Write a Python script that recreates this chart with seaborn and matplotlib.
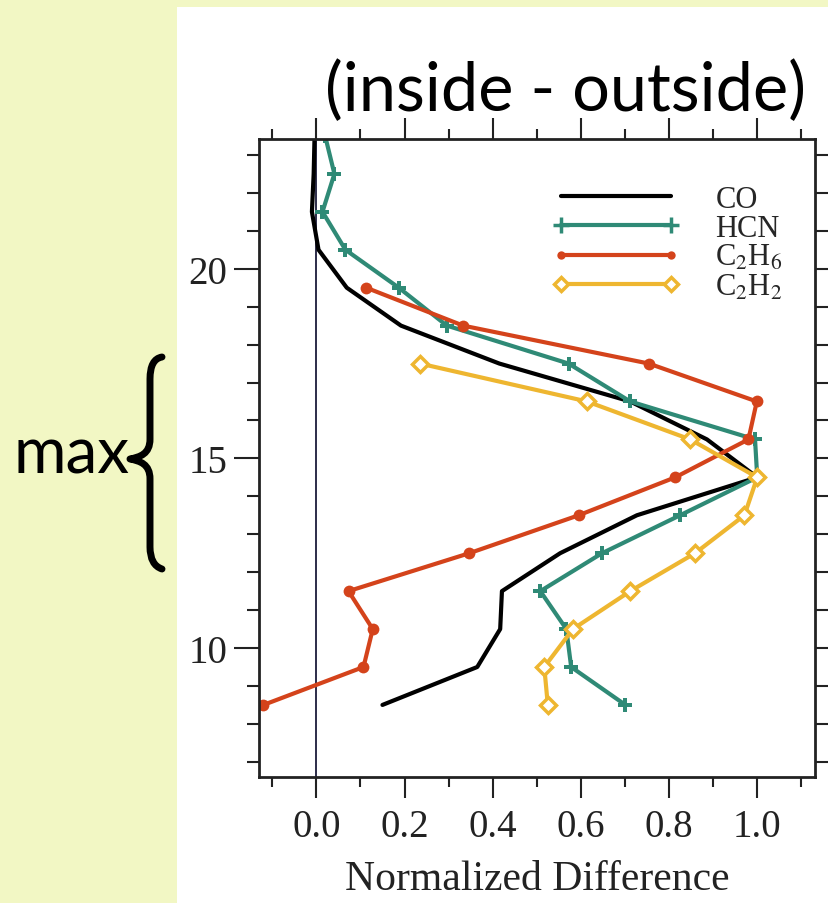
import matplotlib
matplotlib.use("Agg")
import matplotlib.pyplot as plt
import seaborn as sns
import pandas as pd
from matplotlib.path import Path
from matplotlib.patches import PathPatch, Rectangle
from matplotlib.ticker import MultipleLocator

# Altitude levels (km) and normalized inside-minus-outside differences
co_alt = [23.5, 22.5, 21.5, 20.5, 19.5, 18.5, 17.5, 16.5, 15.5, 14.5,
          13.5, 12.5, 11.5, 10.5, 9.5, 8.5]
co_val = [-0.004, -0.006, -0.010, 0.005, 0.069, 0.192, 0.415, 0.712, 0.886, 1.0,
          0.727, 0.553, 0.421, 0.417, 0.365, 0.150]

hcn_alt = [23.5, 22.5, 21.5, 20.5, 19.5, 18.5, 17.5, 16.5, 15.5, 14.5,
           13.5, 12.5, 11.5, 10.5, 9.5, 8.5]
hcn_val = [0.020, 0.041, 0.014, 0.066, 0.187, 0.296, 0.572, 0.712, 0.995, 1.0,
           0.825, 0.648, 0.508, 0.567, 0.578, 0.701]

c2h6_alt = [19.5, 18.5, 17.5, 16.5, 15.5, 14.5, 13.5, 12.5, 11.5, 10.5, 9.5, 8.5]
c2h6_val = [0.113, 0.333, 0.754, 0.999, 0.980, 0.814, 0.595, 0.347, 0.073, 0.128, 0.107, -0.120]

c2h2_alt = [17.5, 16.5, 15.5, 14.5, 13.5, 12.5, 11.5, 10.5, 9.5, 8.5]
c2h2_val = [0.235, 0.614, 0.848, 1.0, 0.971, 0.859, 0.712, 0.582, 0.517, 0.525]

x_ticks = [0.0, 0.2, 0.4, 0.6, 0.8, 1.0]
y_ticks = [10, 15, 20]

sns.set_style("ticks")
plt.rcParams["font.family"] = ["Liberation Serif", "DejaVu Serif"]
plt.rcParams["mathtext.fontset"] = "stix"

W, H = 829, 904
fig = plt.figure(figsize=(W / 100, H / 100), dpi=100)
fig.patch.set_facecolor("#f2f7c4")
fig.add_artist(Rectangle((177 / W, 0), (W - 177) / W, (H - 8) / H,
                         transform=fig.transFigure, facecolor="white",
                         edgecolor="none", zorder=0))

ax = fig.add_axes([259 / W, 1 - 778 / H, (815 - 259) / W, (778 - 140) / H])
ax.set_facecolor("white")

ax.axvline(0, color="#1b1b3a", lw=1.3, zorder=1)

teal, red, gold = "#2f8a76", "#d4431b", "#eeb630"
series = [
    ("CO", co_val, co_alt, dict(color="black", lw=3.0)),
    ("HCN", hcn_val, hcn_alt, dict(color=teal, lw=3.0, marker="P",
                                    markersize=10, markeredgewidth=0)),
    ("C$_2$H$_6$", c2h6_val, c2h6_alt, dict(color=red, lw=3.0, marker="o",
                                           markersize=8.5, markeredgewidth=0)),
    ("C$_2$H$_2$", c2h2_val, c2h2_alt, dict(color=gold, lw=3.0, marker="D",
                                           markersize=8, markerfacecolor="white",
                                           markeredgecolor=gold,
                                           markeredgewidth=2.5)),
]
for name, vals, alts, style in series:
    df = pd.DataFrame({"diff": vals, "alt": alts})
    sns.lineplot(data=df, x="diff", y="alt", sort=False, estimator=None,
                 ax=ax, label=name, **style)

ax.set_xlim(-0.13, 1.131)
ax.set_ylim(6.6, 23.42)
ax.set_xticks(x_ticks)
ax.set_xticklabels([f"{t:.1f}" for t in x_ticks])
ax.set_yticks(y_ticks)
ax.xaxis.set_minor_locator(MultipleLocator(0.1))
ax.yaxis.set_minor_locator(MultipleLocator(1))
ax.tick_params(which="both", direction="out", top=True, right=True,
               width=1.5, color="#222222", labelsize=28, labelcolor="#222222")
ax.tick_params(which="major", length=15, pad=7)
ax.tick_params(which="minor", length=7)
ax.tick_params(axis="y", which="major", length=18, pad=5)
ax.tick_params(axis="y", which="minor", length=9)
for s in ax.spines.values():
    s.set_linewidth(2.0)
    s.set_color("#222222")
ax.set_xlabel("Normalized Difference", fontsize=30, color="#222222", labelpad=11)
ax.set_ylabel("")

leg = ax.legend(loc="upper right", bbox_to_anchor=((783 - 259) / 556, (778 - 186) / 638),
                frameon=False, fontsize=22, handlelength=4.2, handletextpad=1.15,
                labelspacing=0.0, borderpad=0, borderaxespad=0, numpoints=2)
hcn_h, c2h6_h, c2h2_h = leg.legend_handles[1:]
hcn_h.set_marker("+")
hcn_h.set_markersize(12)
hcn_h.set_markeredgewidth(2.5)
hcn_h.set_markeredgecolor(teal)
c2h6_h.set_markersize(6)
c2h2_h.set_markersize(7)

fig.text(566 / W, 1 - 92 / H, "(inside - outside)", family="Lato",
         fontsize=48, ha="center", va="center", color="black")
fig.text(72 / W, 1 - 456 / H, "max", family="Lato", fontsize=46,
         ha="center", va="center", color="black")

# curly brace next to the "max" label, in pixel coordinates
def px(x, y):
    return (x / W, 1 - y / H)

verts = [px(162, 358), px(150, 360), px(150, 380),
         px(150, 440),
         px(150, 455), px(140, 458), px(130, 460),
         px(140, 462), px(150, 465), px(150, 480),
         px(150, 548),
         px(150, 566), px(162, 570)]
codes = [Path.MOVETO, Path.CURVE3, Path.CURVE3,
         Path.LINETO,
         Path.CURVE4, Path.CURVE4, Path.CURVE4,
         Path.CURVE4, Path.CURVE4, Path.CURVE4,
         Path.LINETO,
         Path.CURVE3, Path.CURVE3]
brace = PathPatch(Path(verts, codes), transform=fig.transFigure, facecolor="none",
                  edgecolor="black", lw=5, capstyle="round", joinstyle="round")
fig.add_artist(brace)

fig.savefig("out.png", dpi=100, facecolor=fig.get_facecolor())
